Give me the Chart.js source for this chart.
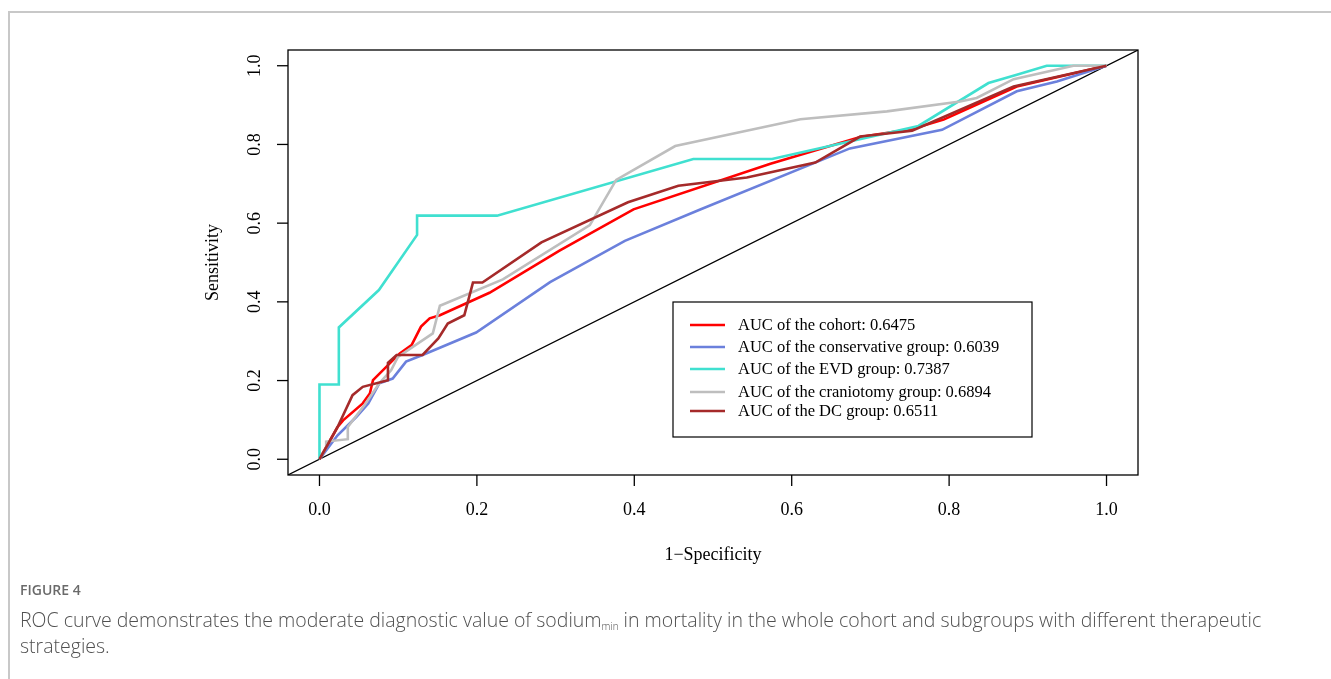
<!DOCTYPE html>
<html>
<head>
<meta charset="utf-8">
<script src="https://cdn.jsdelivr.net/npm/chart.js@4"></script>
<style>
  body { margin: 0; background: #fff; }
  #wrap { position: relative; width: 1331px; height: 679px; overflow: hidden; }
  #frame { position: absolute; left: 8px; top: 11px; width: 1400px; height: 700px;
           border-left: 2px solid #c8c8c8; border-top: 2px solid #c8c8c8; }
  canvas { position: absolute; left: 0; top: 0; }
  .cap { position: absolute; left: 20px; font-family: "Open Sans", sans-serif; color: #505050; }
  #figno { top: 580px; font-size: 14px; font-weight: 600; color: #6a6a6a; }
  #captext { top: 607px; font-size: 19.5px; font-weight: 300; line-height: 26px; width: 1280px; }
  sub { font-size: 10px; vertical-align: -3px; line-height: 0; }
</style>
</head>
<body>
<div id="wrap">
  <div id="frame"></div>
  <canvas id="roc" width="1331" height="679"></canvas>
  <div class="cap" id="figno">FIGURE 4</div>
  <div class="cap" id="captext">ROC curve demonstrates the moderate diagnostic value of sodium<sub>min</sub> in mortality in the whole cohort and subgroups with different therapeutic strategies.</div>
</div>
<script>
// values (1-specificity, sensitivity)
const groupNames = ["the cohort", "the conservative group", "the EVD group", "the craniotomy group", "the DC group"];
const aucValues = ["0.6475", "0.6039", "0.7387", "0.6894", "0.6511"];
const lineColors = ["#ff0000", "#6b80dc", "#40e0d0", "#bebebe", "#a52a2a"];

const cohortFpr = [0, 0.023, 0.030, 0.055, 0.064, 0.068, 0.102, 0.117, 0.129, 0.140, 0.153, 0.216, 0.305, 0.399, 0.573, 0.687, 0.753, 0.793, 0.886, 1];
const cohortTpr = [0, 0.082, 0.099, 0.142, 0.167, 0.201, 0.269, 0.290, 0.337, 0.358, 0.366, 0.423, 0.530, 0.635, 0.751, 0.819, 0.839, 0.863, 0.947, 1];

const consFpr = [0, 0.023, 0.047, 0.062, 0.076, 0.093, 0.110, 0.131, 0.199, 0.293, 0.388, 0.483, 0.674, 0.791, 0.886, 0.937, 1];
const consTpr = [0, 0.061, 0.108, 0.142, 0.193, 0.205, 0.248, 0.265, 0.322, 0.450, 0.555, 0.634, 0.790, 0.837, 0.935, 0.960, 1];

const evdFpr = [0, 0, 0.0246, 0.0246, 0.0755, 0.124, 0.124, 0.2256, 0.475, 0.575, 0.761, 0.850, 0.886, 0.924, 1];
const evdTpr = [0, 0.190, 0.190, 0.335, 0.430, 0.570, 0.619, 0.619, 0.763, 0.763, 0.847, 0.956, 0.977, 1, 1];

const cranFpr = [0, 0.0085, 0.0085, 0.036, 0.036, 0.057, 0.076, 0.091, 0.0997, 0.144, 0.153, 0.233, 0.3435, 0.377, 0.452, 0.611, 0.721, 0.814, 0.835, 0.882, 0.958, 1];
const cranTpr = [0, 0.031, 0.045, 0.051, 0.082, 0.137, 0.193, 0.226, 0.260, 0.320, 0.390, 0.457, 0.595, 0.710, 0.796, 0.864, 0.884, 0.909, 0.918, 0.966, 1, 1];

const dcFpr = [0, 0.023, 0.042, 0.055, 0.087, 0.087, 0.098, 0.131, 0.151, 0.163, 0.184, 0.195, 0.207, 0.282, 0.392, 0.456, 0.543, 0.630, 0.687, 0.753, 0.882, 1];
const dcTpr = [0, 0.082, 0.163, 0.184, 0.201, 0.245, 0.265, 0.265, 0.307, 0.345, 0.366, 0.449, 0.449, 0.551, 0.653, 0.695, 0.716, 0.754, 0.820, 0.835, 0.947, 1];

const tickValues = [0, 0.2, 0.4, 0.6, 0.8, 1.0];
const tickLabels = ["0.0", "0.2", "0.4", "0.6", "0.8", "1.0"];
const axisMin = -0.04, axisMax = 1.04;

const curves = [[cohortFpr, cohortTpr], [consFpr, consTpr], [evdFpr, evdTpr], [cranFpr, cranTpr], [dcFpr, dcTpr]];

function toPoints(xs, ys) {
  return xs.map((x, i) => ({ x: x, y: ys[i] }));
}

const datasets = curves.map((c, i) => ({
  label: "AUC of " + groupNames[i] + ": " + aucValues[i],
  data: toPoints(c[0], c[1]),
  borderColor: lineColors[i],
  borderWidth: 2.6,
  pointRadius: 0,
  tension: 0,
  order: 5 - i
}));
// reference diagonal
datasets.push({
  label: "diag",
  data: toPoints([axisMin, axisMax], [axisMin, axisMax]),
  borderColor: "#000",
  borderWidth: 1.2,
  pointRadius: 0,
  order: 10
});

const serif = '"Liberation Serif", "Times New Roman", serif';

// R-style box, ticks, labels and legend
const rAxes = {
  id: "rAxes",
  afterDraw(chart) {
    const ctx = chart.ctx;
    const a = chart.chartArea;
    const xs = chart.scales.x, ys = chart.scales.y;
    ctx.save();
    ctx.strokeStyle = "#000";
    ctx.lineWidth = 1.3;
    ctx.strokeRect(a.left, a.top, a.right - a.left, a.bottom - a.top);

    ctx.fillStyle = "#000";
    ctx.font = "18px " + serif;
    ctx.textAlign = "center";
    ctx.textBaseline = "middle";
    tickValues.forEach((v, i) => {
      const px = xs.getPixelForValue(v);
      ctx.beginPath();
      ctx.moveTo(px, a.bottom);
      ctx.lineTo(px, a.bottom + 11);
      ctx.stroke();
      ctx.fillText(tickLabels[i], px, a.bottom + 35);

      const py = ys.getPixelForValue(v);
      ctx.beginPath();
      ctx.moveTo(a.left, py);
      ctx.lineTo(a.left - 11, py);
      ctx.stroke();
      ctx.save();
      ctx.translate(a.left - 33, py);
      ctx.rotate(-Math.PI / 2);
      ctx.fillText(tickLabels[i], 0, 0);
      ctx.restore();
    });

    ctx.fillText("1\u2212Specificity", (a.left + a.right) / 2, a.bottom + 80);
    ctx.save();
    ctx.translate(a.left - 75, (a.top + a.bottom) / 2);
    ctx.rotate(-Math.PI / 2);
    ctx.fillText("Sensitivity", 0, 0);
    ctx.restore();

    // legend box
    const lx = a.left + 385, ly = a.top + 252, lw = 359, lh = 135;
    ctx.lineWidth = 1.2;
    ctx.strokeRect(lx, ly, lw, lh);
    const rowY = [23, 45, 67, 90, 109];
    ctx.font = "16.5px " + serif;
    ctx.textAlign = "left";
    chart.data.datasets.slice(0, 5).forEach((d, i) => {
      const y = ly + rowY[i];
      ctx.strokeStyle = d.borderColor;
      ctx.lineWidth = 2.6;
      ctx.beginPath();
      ctx.moveTo(lx + 17, y);
      ctx.lineTo(lx + 52, y);
      ctx.stroke();
      ctx.fillText(d.label, lx + 65, y + 1);
    });
    ctx.restore();
  }
};

new Chart(document.getElementById("roc"), {
  type: "line",
  data: { datasets: datasets },
  options: {
    responsive: false,
    animation: false,
    layout: { padding: { left: 288, right: 193, top: 50, bottom: 204 } },
    plugins: { legend: { display: false }, tooltip: { enabled: false } },
    scales: {
      x: { type: "linear", min: axisMin, max: axisMax, display: false },
      y: { type: "linear", min: axisMin, max: axisMax, display: false }
    }
  },
  plugins: [rAxes]
});
</script>
</body>
</html>
